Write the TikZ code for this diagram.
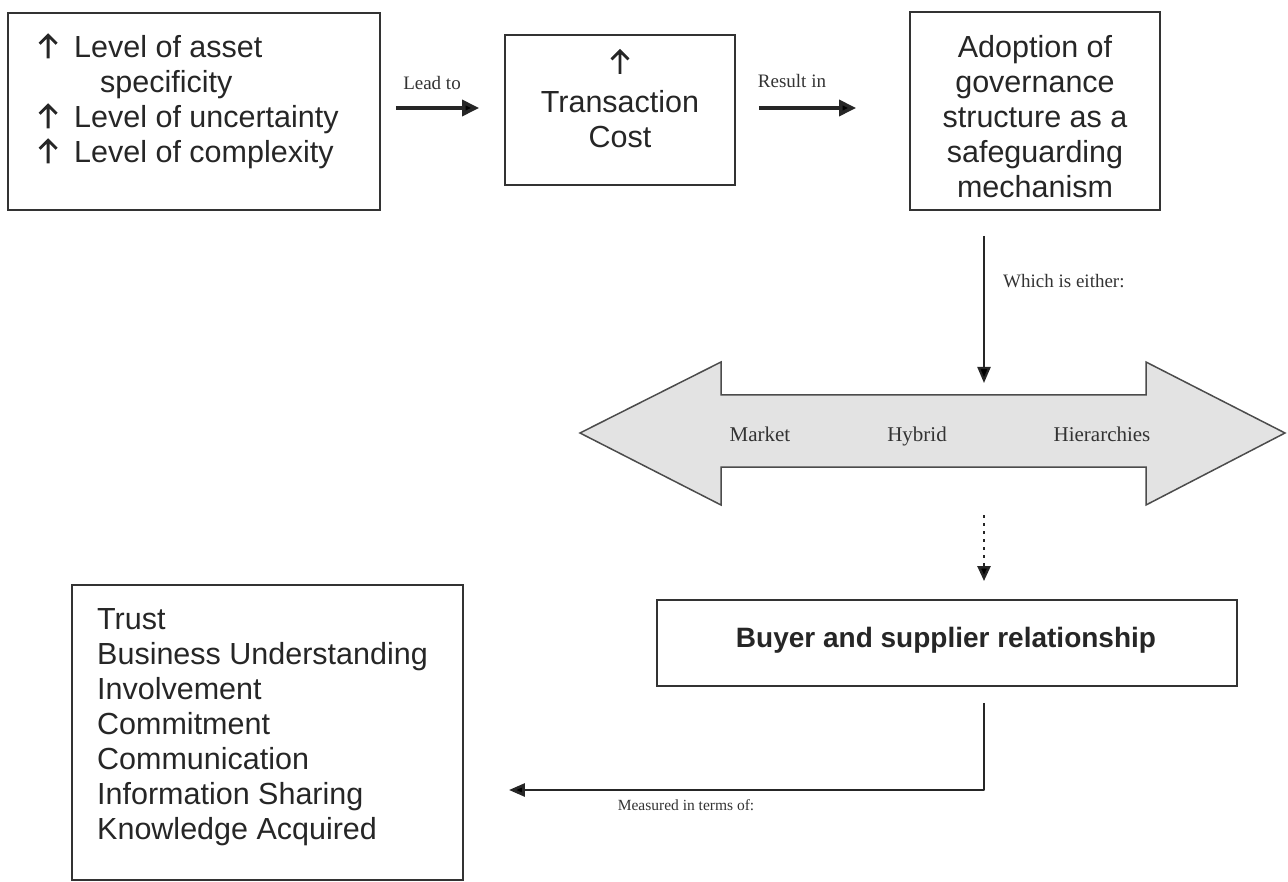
\documentclass[tikz,border=0pt]{standalone}
\usepackage{fontspec}
\setmainfont{Liberation Sans}
\newfontfamily\labelfont{Liberation Serif}
\usetikzlibrary{arrows.meta,calc}
% heavy upward arrow used as a bullet
\newcommand\risemark{\tikz[baseline=0pt, x=1pt, y=1pt]
  \draw[line width=2.8pt, line cap=butt, line join=miter, black!85]
    (10,-1) -- (10,22.5) (1.5,13.5) -- (10,22) -- (18.5,13.5);}
\begin{document}
\begin{tikzpicture}[x=1pt,y=-1pt,
  box/.style={draw=black!80, line width=1.9pt, inner sep=0pt},
  body/.style={inner sep=0pt, font=\fontsize{30.5}{35}\selectfont, text=black!85},
  small/.style={inner sep=0pt, font=\labelfont\fontsize{19}{22}\selectfont, text=black!80},
  spec/.style={inner sep=0pt, anchor=base, font=\labelfont\fontsize{21}{24}\selectfont, text=black!80},
  conn/.style={draw=black!85, line width=3.5pt, -{Triangle[length=17pt,width=16pt]}},
  thinconn/.style={draw=black!85, line width=2.2pt, -{Triangle[length=16pt,width=13pt]}}]
\useasboundingbox (0,0) rectangle (1288,882);

% boxes
\node[box, minimum width=372pt, minimum height=197pt] (A) at (194,111.5) {};
\node[box, minimum width=230pt, minimum height=150pt] (B) at (620,110) {};
\node[box, minimum width=250pt, minimum height=198pt] (C) at (1035,111) {};
\node[box, minimum width=580pt, minimum height=86pt]  (D) at (947,643) {};
\node[box, minimum width=391pt, minimum height=295pt] (E) at (267.5,732.5) {};

% box texts
\node[body, anchor=west, align=left] (tA) at (38,101)
  {\makebox[36pt][l]{\risemark}Level of asset\\
   \hspace*{62pt}specificity\\
   \makebox[36pt][l]{\risemark}Level of uncertainty\\
   \makebox[36pt][l]{\risemark}Level of complexity};
\node[body, align=center] (tB) at (620,98.5) {\risemark\\[5pt]Transaction\\Cost};
\node[body, align=center] (tC) at (1035,117)
  {Adoption of\\governance\\structure as a\\safeguarding\\mechanism};
\node[inner sep=0pt, font=\bfseries\fontsize{28}{32}\selectfont, text=black!85] (tD) at (946,640)
  {Buyer and supplier relationship};
\node[body, anchor=west, align=left] (tE) at (97,727)
  {Trust\\Business Understanding\\Involvement\\Commitment\\Communication\\Information Sharing\\Knowledge Acquired};

% governance spectrum (double-headed block arrow)
\draw[fill=black!11, draw=black!70, line width=1.5pt, line join=miter]
  (580,433) -- (721,362) -- (721,395) -- (1146,395) -- (1146,362) -- (1285,433)
  -- (1146,505) -- (1146,467) -- (721,467) -- (721,505) -- cycle;
\coordinate (gtop) at (984,395);
\coordinate (gbot) at (984,467);
\node[spec] (m1) at (760,442) {Market};
\node[spec] (m2) at (917,442) {Hybrid};
\node[spec] (m3) at (1102,442) {Hierarchies};

% connectors
\coordinate (row) at (0,108);
\draw[conn] ([xshift=15pt]A.east |- row) -- ([xshift=-25pt]B.west |- row);
\node[small] (l1) at (432,83) {Lead to};
\draw[conn] ([xshift=23pt]B.east |- row) -- ([xshift=-53pt]C.west |- row);
\node[small] (l2) at (792,81) {Result in};

\draw[thinconn] ([yshift=-25pt]C.south -| gtop) -- ([yshift=12pt]gtop);
\node[small, anchor=west] (l3) at (1003,281) {Which is either:};

\draw[draw=black!85, line width=2.5pt, dash pattern=on 2.5pt off 5.5pt,
      -{Triangle[length=15pt,width=13pt]}]
  ([yshift=-48pt]gbot) -- ([yshift=18pt]D.north -| gbot);

\coordinate (bend) at (984,790);
\draw[thinconn, line width=2.8pt, line join=round] ([yshift=-16pt]D.south -| bend) -- (bend)
  -- ([xshift=45pt]E.east |- bend);
\node[small, font=\labelfont\fontsize{15.5}{18}\selectfont] (l4) at (686,805) {Measured in terms of:};
\end{tikzpicture}
\end{document}
